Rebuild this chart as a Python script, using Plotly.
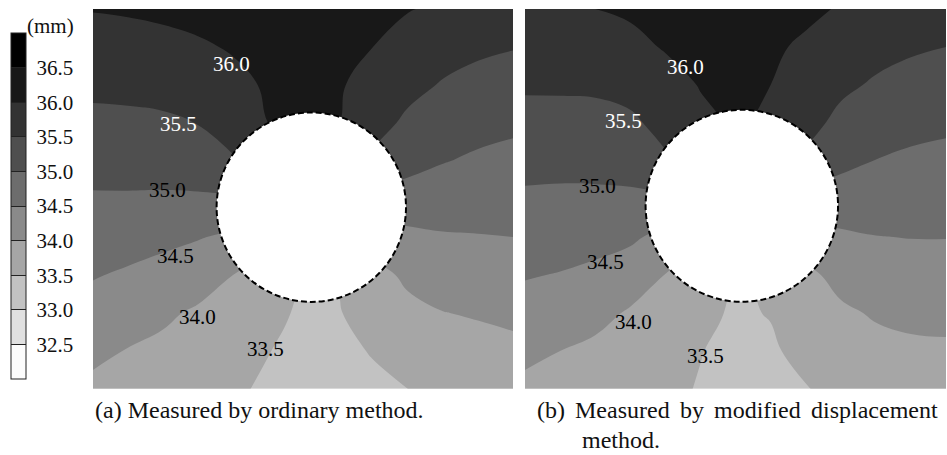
import plotly.graph_objects as go

# ---------------- data ----------------
# grid node positions inside each panel (panel pixel units, y downward)
X_NODES = [0, 35, 70, 105, 140, 175, 210, 245, 280, 315, 350, 385, 420]
Y_NODES = [0, 38, 76, 114, 152, 190, 228, 266, 304, 342, 380]

# (a) measured by ordinary method  -- estimated displacement (mm) at grid nodes
Z_A = [
    [36.02, 36.05, 36.10, 36.15, 36.20, 36.25, 36.27, 36.25, 36.18, 36.02, 35.93, 35.84, 35.74],
    [35.81, 35.82, 35.86, 35.94, 36.04, 36.12, 36.14, 36.10, 36.00, 35.83, 35.70, 35.58, 35.52],
    [35.60, 35.62, 35.65, 35.72, 35.88, 36.05, 36.10, 36.04, 35.86, 35.65, 35.46, 35.36, 35.30],
    [35.39, 35.40, 35.43, 35.51, 35.73, 36.00, 36.05, 36.02, 35.70, 35.40, 35.24, 35.15, 35.08],
    [35.17, 35.18, 35.19, 35.24, 35.45, 35.75, 36.05, 35.82, 35.40, 35.13, 35.02, 34.93, 34.88],
    [34.95, 34.95, 34.94, 34.94, 34.95, 35.04, 35.68, 35.02, 34.85, 34.83, 34.74, 34.71, 34.69],
    [34.74, 34.69, 34.62, 34.53, 34.41, 34.15, 33.50, 33.85, 34.22, 34.37, 34.46, 34.48, 34.50],
    [34.53, 34.44, 34.33, 34.20, 34.00, 33.76, 33.47, 33.53, 33.84, 34.09, 34.22, 34.26, 34.30],
    [34.32, 34.21, 34.07, 33.94, 33.81, 33.61, 33.44, 33.47, 33.70, 33.88, 33.99, 34.04, 34.10],
    [34.11, 33.98, 33.91, 33.82, 33.70, 33.51, 33.40, 33.42, 33.52, 33.70, 33.82, 33.84, 33.89],
    [33.89, 33.80, 33.71, 33.63, 33.55, 33.45, 33.38, 33.38, 33.43, 33.50, 33.56, 33.63, 33.69],
]

# (b) measured by modified displacement method
Z_B = [
    [35.98, 35.99, 36.00, 36.06, 36.12, 36.17, 36.20, 36.16, 36.08, 35.97, 35.88, 35.79, 35.70],
    [35.77, 35.77, 35.78, 35.89, 36.03, 36.10, 36.12, 36.06, 35.94, 35.76, 35.66, 35.56, 35.50],
    [35.56, 35.56, 35.57, 35.65, 35.84, 36.02, 36.08, 36.00, 35.82, 35.60, 35.44, 35.34, 35.29],
    [35.34, 35.35, 35.36, 35.42, 35.64, 35.91, 36.05, 35.94, 35.67, 35.37, 35.21, 35.13, 35.08],
    [35.13, 35.13, 35.14, 35.17, 35.44, 35.69, 36.03, 35.75, 35.41, 35.11, 34.99, 34.92, 34.88],
    [34.93, 34.91, 34.91, 34.92, 34.93, 35.02, 35.68, 34.96, 34.83, 34.79, 34.74, 34.72, 34.69],
    [34.73, 34.70, 34.65, 34.58, 34.36, 34.08, 33.54, 33.90, 34.24, 34.42, 34.49, 34.51, 34.51],
    [34.53, 34.48, 34.40, 34.25, 33.99, 33.70, 33.47, 33.55, 33.90, 34.13, 34.27, 34.30, 34.31],
    [34.32, 34.24, 34.14, 33.95, 33.82, 33.62, 33.44, 33.52, 33.77, 33.93, 34.04, 34.10, 34.12],
    [34.11, 34.00, 33.90, 33.83, 33.68, 33.51, 33.42, 33.44, 33.63, 33.78, 33.88, 33.92, 33.93],
    [33.89, 33.80, 33.72, 33.64, 33.57, 33.48, 33.40, 33.42, 33.49, 33.56, 33.63, 33.68, 33.73],
]

LEVEL_START, LEVEL_END, LEVEL_STEP = 32.0, 37.0, 0.5
BAND_COLORS = ["#fcfcfc", "#e0e0e0", "#c2c2c2", "#a6a6a6", "#8a8a8a",
               "#6d6d6d", "#4f4f4f", "#333333", "#181818", "#000000"]
TICK_VALUES = [32.5, 33.0, 33.5, 34.0, 34.5, 35.0, 35.5, 36.0, 36.5]
TICK_LABELS = ["32.5", "33.0", "33.5", "34.0", "34.5", "35.0", "35.5", "36.0", "36.5"]
UNIT_LABEL = "(mm)"

CONTOUR_LABELS = ["36.0", "35.5", "35.0", "34.5", "34.0", "33.5"]
LABEL_COLORS = ["white", "white", "black", "black", "black", "black"]
LABEL_A_X = [138, 85, 74, 82, 104, 172]
LABEL_A_Y = [55, 115, 181, 247, 308, 340]
LABEL_B_X = [160, 98, 72, 80, 108, 180]
LABEL_B_Y = [58, 112, 177, 253, 313, 347]

# circular opening (centre x, centre y, radius) in panel units
HOLE_A = (218.3, 198.2, 94.7)
HOLE_B = (216.3, 196.8, 96.0)

CAPTION_A = "(a) Measured by ordinary method."
CAPTION_B_WORDS = ["(b)", "Measured", "by", "modified", "displacement"]
CAPTION_B_TAIL = "method."

# ---------------- figure ----------------
W, H = 947, 455
SERIF = "Liberation Serif, Times New Roman, serif"

colorscale = []
n = len(BAND_COLORS)
for i, c in enumerate(BAND_COLORS):
    colorscale.append([i / n, c])
    colorscale.append([(i + 1) / n, c])

def px_x(p):
    return p / W

def px_y(p):
    return 1 - p / H

contours = dict(start=LEVEL_START, end=LEVEL_END, size=LEVEL_STEP,
                coloring="fill", showlines=False)

fig = go.Figure()
fig.add_trace(go.Contour(
    x=X_NODES, y=Y_NODES, z=Z_A, zmin=LEVEL_START, zmax=LEVEL_END,
    colorscale=colorscale, contours=contours,
    line=dict(width=0, smoothing=1.2), hoverinfo="skip",
    showscale=True,
    colorbar=dict(
        x=px_x(11), xanchor="left", xpad=0, xref="paper",
        y=px_y(33), yanchor="top", ypad=0, yref="paper",
        len=346, lenmode="pixels", thickness=15, thicknessmode="pixels",
        outlinewidth=1, outlinecolor="#222", borderwidth=0,
        tickvals=TICK_VALUES, ticktext=["\u00a0" + t for t in TICK_LABELS],
        ticks="inside", ticklen=15, tickwidth=1, tickcolor="#222",
        tickfont=dict(family=SERIF, size=21, color="#111"),
    ),
    xaxis="x", yaxis="y",
))
fig.add_trace(go.Contour(
    x=X_NODES, y=Y_NODES, z=Z_B, zmin=LEVEL_START, zmax=LEVEL_END,
    colorscale=colorscale, contours=contours,
    line=dict(width=0, smoothing=1.2), hoverinfo="skip",
    showscale=False, xaxis="x2", yaxis="y2",
))

ax_common = dict(visible=False, showgrid=False, zeroline=False, fixedrange=True)
fig.update_layout(
    width=W, height=H, margin=dict(l=0, r=0, t=0, b=0),
    paper_bgcolor="white", plot_bgcolor="white", showlegend=False,
    hovermode=False,
    xaxis=dict(domain=[px_x(93), px_x(513)], range=[0, 420], anchor="y", **ax_common),
    yaxis=dict(domain=[px_y(388.5), px_y(9)], range=[379.5, 0], anchor="x", **ax_common),
    xaxis2=dict(domain=[px_x(525), px_x(946)], range=[0, 420], anchor="y2", **ax_common),
    yaxis2=dict(domain=[px_y(388.5), px_y(9)], range=[379.5, 0], anchor="x2", **ax_common),
)

# hole outlines
for (cx, cy, r), xr, yr in [(HOLE_A, "x", "y"), (HOLE_B, "x2", "y2")]:
    fig.add_shape(type="circle", xref=xr, yref=yr,
                  x0=cx - r, x1=cx + r, y0=cy - r, y1=cy + r,
                  fillcolor="white", line=dict(color="black", width=2, dash="6px,3px"),
                  layer="above")

# contour value labels
for xs, ys, xr, yr in [(LABEL_A_X, LABEL_A_Y, "x", "y"), (LABEL_B_X, LABEL_B_Y, "x2", "y2")]:
    for t, c, lx, ly in zip(CONTOUR_LABELS, LABEL_COLORS, xs, ys):
        fig.add_annotation(x=lx, y=ly, xref=xr, yref=yr, text=t, showarrow=False,
                           font=dict(family=SERIF, size=21, color=c),
                           xanchor="center", yanchor="middle")

# unit label of the colour bar
fig.add_annotation(x=px_x(25), y=px_y(26), xref="paper", yref="paper", text=UNIT_LABEL,
                   showarrow=False, xanchor="left", yanchor="middle",
                   font=dict(family=SERIF, size=21, color="#111"))

# captions
cap_font = dict(family=SERIF, size=24, color="#111")
fig.add_annotation(x=px_x(93), y=px_y(410), xref="paper", yref="paper", text=CAPTION_A,
                   showarrow=False, xanchor="left", yanchor="middle", font=cap_font)
word_x = [535, 573, 678, 712, 809]
for wx, wtxt in zip(word_x, CAPTION_B_WORDS):
    fig.add_annotation(x=px_x(wx), y=px_y(410), xref="paper", yref="paper", text=wtxt,
                       showarrow=False, xanchor="left", yanchor="middle", font=cap_font)
fig.add_annotation(x=px_x(580), y=px_y(440), xref="paper", yref="paper", text=CAPTION_B_TAIL,
                   showarrow=False, xanchor="left", yanchor="middle", font=cap_font)

fig.write_html("out.html", config={"displayModeBar": False, "staticPlot": True},
               post_script="document.body.style.margin='0px';")
